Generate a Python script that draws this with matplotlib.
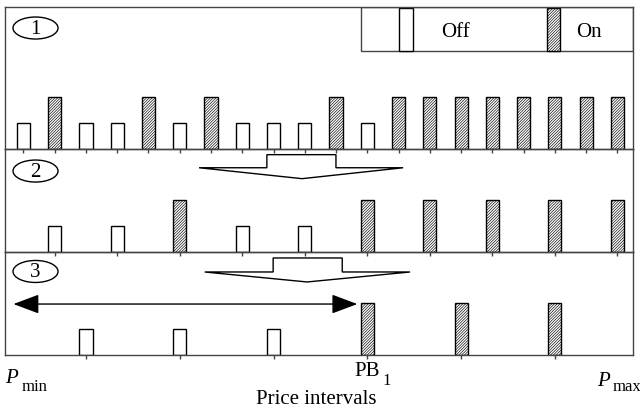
import numpy as np
import matplotlib.pyplot as plt
from matplotlib.patches import Rectangle, Ellipse, Polygon

plt.rcParams['font.family'] = ['Liberation Serif', 'DejaVu Serif']
plt.rcParams['hatch.linewidth'] = 0.45
plt.rcParams['hatch.color'] = '#909090'

# Intervalos de precio y estado de cada bloque (0 = Off, 1 = On)
x1 = np.arange(1, 21)
on1 = [0, 1, 0, 0, 1, 0, 1, 0, 0, 0, 1, 0, 1, 1, 1, 1, 1, 1, 1, 1]
x2 = np.arange(2, 21, 2)
on2 = [0, 0, 1, 0, 0, 1, 1, 1, 1, 1]
x3 = np.arange(3, 19, 3)
on3 = [0, 0, 0, 1, 1, 1]
h_off = 1.0
h_on = 2.0
panel_labels = ['1', '2', '3']
legend_labels = ['Off', 'On']
pb_interval = 12

frame = '#444444'
hatch = '////////////'
bar_w = 0.42

fig = plt.figure(figsize=(6.4, 4.1), dpi=100)
ax1 = fig.add_axes([5/640, 260/410, 628/640, 142/410])
ax2 = fig.add_axes([5/640, 157/410, 628/640, 103/410])
ax3 = fig.add_axes([5/640, 54/410, 628/640, 103/410])
axes = [ax1, ax2, ax3]


def draw_bars(ax, x, on):
    x = np.asarray(x)
    on = np.asarray(on, dtype=bool)
    ax.bar(x[~on], h_off, width=bar_w, facecolor='white', edgecolor='black', linewidth=1.0)
    ax.bar(x[on], h_on, width=bar_w, facecolor='white', edgecolor='black', linewidth=1.0,
           hatch=hatch)
    ax.set_xticks(x)


for ax, x, on in zip(axes, [x1, x2, x3], [on1, on2, on3]):
    draw_bars(ax, x, on)
    ax.set_facecolor('none')
    ax.set_xlim(0.41, 20.5)
    ax.set_yticks([])
    ax.tick_params(axis='x', direction='out', length=3, width=1, color=frame,
                   labelbottom=False)
    for s in ax.spines.values():
        s.set_color(frame)
        s.set_linewidth(1.0)

ax1.set_ylim(0, 142/26)
ax2.set_ylim(0, 103/26)
ax3.set_ylim(0, 103/26)

# Etiquetas numeradas en elipses
ell_y = [0.852, 0.786, 0.811]
ell_h = [22/142, 22/103, 22/103]
for ax, lab, y, h in zip(axes, panel_labels, ell_y, ell_h):
    ax.add_patch(Ellipse((0.0486, y), 0.0717, h, transform=ax.transAxes,
                         fill=False, edgecolor='black', linewidth=1.0))
    ax.text(0.0486, y - 0.005, lab, transform=ax.transAxes, ha='center', va='center',
            fontsize=15)

# Leyenda
ax1.add_patch(Rectangle((0.567, 0.69), 0.433, 0.31, transform=ax1.transAxes,
                        fill=False, edgecolor=frame, linewidth=1.0))
ax1.add_patch(Rectangle((0.627, 0.69), 0.022, 0.303, transform=ax1.transAxes,
                        facecolor='white', edgecolor='black', linewidth=1.0))
ax1.add_patch(Rectangle((0.863, 0.69), 0.021, 0.303, transform=ax1.transAxes,
                        facecolor='white', edgecolor='black', linewidth=1.0, hatch=hatch))
ax1.text(0.694, 0.83, legend_labels[0], transform=ax1.transAxes, ha='left', va='center',
         fontsize=15)
ax1.text(0.910, 0.83, legend_labels[1], transform=ax1.transAxes, ha='left', va='center',
         fontsize=15)

# Flechas de bloque hacia abajo
arrow2 = [(0.309, 0.818), (0.417, 0.818), (0.417, 0.945), (0.527, 0.945),
          (0.527, 0.818), (0.634, 0.818), (0.473, 0.712)]
arrow3 = [(0.318, 0.806), (0.427, 0.806), (0.427, 0.942), (0.537, 0.942),
          (0.537, 0.806), (0.645, 0.806), (0.481, 0.709)]
for ax, pts in zip([ax2, ax3], [arrow2, arrow3]):
    ax.add_patch(Polygon(pts, closed=True, fill=False, edgecolor='black', linewidth=1.0,
                         transform=ax.transAxes))

# Flecha doble en el panel 3
ax3.annotate('', xy=(0.68, 1.96), xytext=(11.68, 1.96),
             arrowprops=dict(arrowstyle='<|-|>,head_length=0.8,head_width=0.3',
                             color='black', lw=1.0, shrinkA=0, shrinkB=0,
                             mutation_scale=20))

# Etiquetas del eje
tr = ax3.get_xaxis_transform()
ax3.text(pb_interval, -0.194, 'PB', transform=tr, ha='center', va='baseline', fontsize=15)
ax3.text(pb_interval + 0.48, -0.282, '1', transform=tr, ha='left', va='baseline', fontsize=12)
ax3.text(0.0, -0.262, 'P', transform=ax3.transAxes, ha='left', va='baseline', fontsize=15,
         style='italic')
ax3.text(0.027, -0.340, 'min', transform=ax3.transAxes, ha='left', va='baseline', fontsize=12)
ax3.text(0.943, -0.291, 'P', transform=ax3.transAxes, ha='left', va='baseline', fontsize=15,
         style='italic')
ax3.text(0.967, -0.340, 'max', transform=ax3.transAxes, ha='left', va='baseline', fontsize=12)
ax3.text(0.495, -0.462, 'Price intervals', transform=ax3.transAxes, ha='center',
         va='baseline', fontsize=15)

fig.savefig('out.png', dpi=100)
